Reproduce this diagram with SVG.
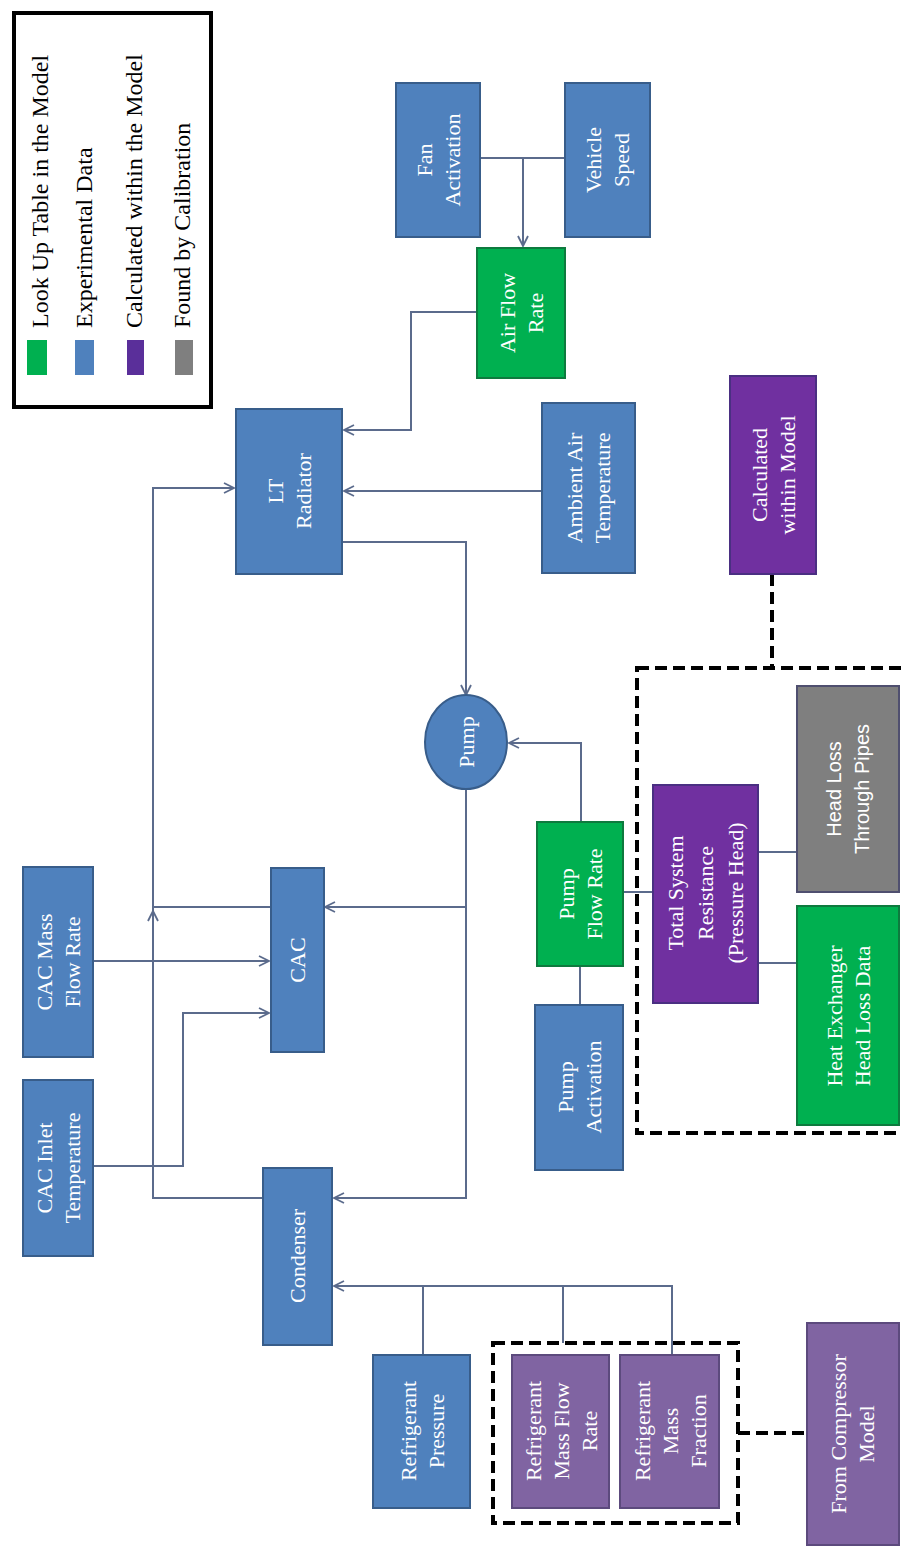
<svg xmlns="http://www.w3.org/2000/svg" width="901" height="1549" viewBox="0 0 901 1549">
<style>
.n{stroke-width:2}
.blue{fill:#4f81bd;stroke:#385d8a}
.green{fill:#00b050;stroke:#0e7a3e}
.dpur{fill:#7030a0;stroke:#4a2f82}
.lpur{fill:#8064a2;stroke:#5c4a7d}
.gray{fill:#7f7f7f;stroke:#4f4f6f}
.t{font-family:"Liberation Serif","Times New Roman",serif;font-size:22px;fill:#fff;text-anchor:middle}
.ts{font-family:"Liberation Sans",Arial,sans-serif;font-size:20px;fill:#fff;text-anchor:middle}
.lg{font-family:"Liberation Serif","Times New Roman",serif;font-size:24px;fill:#000}
.c{fill:none;stroke:#5b6b8c;stroke-width:2}
.d{fill:none;stroke:#000;stroke-width:4;stroke-dasharray:12 6}
</style>
<defs>
<marker id="ar" viewBox="0 0 12 12" refX="11" refY="6" markerWidth="12" markerHeight="12" markerUnits="userSpaceOnUse" orient="auto">
<path d="M1,1 L11,6 L1,11" fill="none" stroke="#5b6b8c" stroke-width="1.8"/>
</marker>
</defs>
<rect width="901" height="1549" fill="#fff"/>

<g id="legend">
<rect x="14" y="13" width="197" height="394" fill="#fff" stroke="#000" stroke-width="4"/>
<rect x="27" y="340" width="20" height="35" fill="#00b050"/>
<rect x="75" y="340" width="19" height="35" fill="#4f81bd"/>
<rect x="127" y="340" width="17" height="35" fill="#5a2f9a"/>
<rect x="175" y="340" width="18" height="35" fill="#7f7f7f"/>
<text class="lg" transform="translate(48,328) rotate(-90)">Look Up Table in the Model</text>
<text class="lg" transform="translate(92,328) rotate(-90)">Experimental Data</text>
<text class="lg" transform="translate(142,328) rotate(-90)">Calculated within the Model</text>
<text class="lg" transform="translate(190,328) rotate(-90)">Found by Calibration</text>
</g>

<g id="connectors">
<path class="c" d="M480,158 H565"/>
<path class="c" d="M523,158 V246" marker-end="url(#ar)"/>
<path class="c" d="M477,312 H411 V430 H344" marker-end="url(#ar)"/>
<path class="c" d="M542,491 H344" marker-end="url(#ar)"/>
<path class="c" d="M342,542 H466 V695" marker-end="url(#ar)"/>
<path class="c" d="M263,1198 H153 V488 H234" marker-end="url(#ar)"/>
<path class="c" d="M271,907 H153"/>
<path class="c" d="M153,935 V911" marker-end="url(#ar)"/>
<path class="c" d="M466,789 V1198 H334" marker-end="url(#ar)"/>
<path class="c" d="M466,907 H325" marker-end="url(#ar)"/>
<path class="c" d="M581,822 V743 H509" marker-end="url(#ar)"/>
<path class="c" d="M580,1005 V966"/>
<path class="c" d="M623,892 H653"/>
<path class="c" d="M758,852 H797"/>
<path class="c" d="M758,963 H797"/>
<path class="c" d="M93,961 H269" marker-end="url(#ar)"/>
<path class="c" d="M93,1166 H183 V1013 H269" marker-end="url(#ar)"/>
<path class="c" d="M672,1355 V1286 H334" marker-end="url(#ar)"/>
<path class="c" d="M423,1355 V1286"/>
<path class="c" d="M563,1343 V1286"/>
<path class="d" d="M772,574 V668"/>
<path class="d" d="M738,1433 H807"/>
</g>

<g id="group-resistance">
<rect class="d" x="637" y="668" width="275" height="465"/>
</g>
<g id="group-refrigerant">
<rect class="d" x="493" y="1343" width="245" height="180"/>
</g>

<g id="fan-activation"><rect class="n blue" x="396" y="83" width="84" height="154"/>
<text class="t" transform="translate(432,160) rotate(-90)">Fan</text>
<text class="t" transform="translate(460,160) rotate(-90)">Activation</text></g>

<g id="vehicle-speed"><rect class="n blue" x="565" y="83" width="85" height="154"/>
<text class="t" transform="translate(601,160) rotate(-90)">Vehicle</text>
<text class="t" transform="translate(629,160) rotate(-90)">Speed</text></g>

<g id="air-flow-rate"><rect class="n green" x="477" y="248" width="88" height="130"/>
<text class="t" transform="translate(515,313) rotate(-90)">Air Flow</text>
<text class="t" transform="translate(543,313) rotate(-90)">Rate</text></g>

<g id="lt-radiator"><rect class="n blue" x="236" y="409" width="106" height="165"/>
<text class="t" transform="translate(283,491) rotate(-90)">LT</text>
<text class="t" transform="translate(311,491) rotate(-90)">Radiator</text></g>

<g id="ambient-air-temperature"><rect class="n blue" x="542" y="403" width="93" height="170"/>
<text class="t" transform="translate(582,488) rotate(-90)">Ambient Air</text>
<text class="t" transform="translate(610,488) rotate(-90)">Temperature</text></g>

<g id="calculated-within-model"><rect class="n dpur" x="730" y="376" width="86" height="198"/>
<text class="t" transform="translate(767,475) rotate(-90)">Calculated</text>
<text class="t" transform="translate(795,475) rotate(-90)">within Model</text></g>

<g id="pump"><ellipse class="n blue" cx="466" cy="742" rx="41" ry="47"/>
<text class="t" transform="translate(474,742) rotate(-90)">Pump</text></g>

<g id="cac-mass-flow-rate"><rect class="n blue" x="23" y="867" width="70" height="190"/>
<text class="t" transform="translate(52,962) rotate(-90)">CAC Mass</text>
<text class="t" transform="translate(80,962) rotate(-90)">Flow Rate</text></g>

<g id="cac-inlet-temperature"><rect class="n blue" x="23" y="1080" width="70" height="176"/>
<text class="t" transform="translate(52,1168) rotate(-90)">CAC Inlet</text>
<text class="t" transform="translate(80,1168) rotate(-90)">Temperature</text></g>

<g id="cac"><rect class="n blue" x="271" y="868" width="53" height="184"/>
<text class="t" transform="translate(305,960) rotate(-90)">CAC</text></g>

<g id="condenser"><rect class="n blue" x="263" y="1168" width="69" height="177"/>
<text class="t" transform="translate(305,1256) rotate(-90)">Condenser</text></g>

<g id="pump-flow-rate"><rect class="n green" x="537" y="822" width="86" height="144"/>
<text class="t" transform="translate(574,894) rotate(-90)">Pump</text>
<text class="t" transform="translate(602,894) rotate(-90)">Flow Rate</text></g>

<g id="pump-activation"><rect class="n blue" x="535" y="1005" width="88" height="165"/>
<text class="t" transform="translate(573,1087) rotate(-90)">Pump</text>
<text class="t" transform="translate(601,1087) rotate(-90)">Activation</text></g>

<g id="total-system-resistance"><rect class="n dpur" x="653" y="785" width="105" height="218"/>
<text class="t" transform="translate(683,893) rotate(-90)">Total System</text>
<text class="t" transform="translate(713,893) rotate(-90)">Resistance</text>
<text class="t" transform="translate(743,893) rotate(-90)">(Pressure Head)</text></g>

<g id="head-loss-pipes"><rect class="n gray" x="797" y="686" width="102" height="206"/>
<text class="ts" transform="translate(841,789) rotate(-90)">Head Loss</text>
<text class="ts" transform="translate(869,789) rotate(-90)">Through Pipes</text></g>

<g id="heat-exchanger-head-loss"><rect class="n green" x="797" y="906" width="102" height="219"/>
<text class="t" transform="translate(842,1016) rotate(-90)">Heat Exchanger</text>
<text class="t" transform="translate(870,1016) rotate(-90)">Head Loss Data</text></g>

<g id="refrigerant-pressure"><rect class="n blue" x="373" y="1355" width="97" height="153"/>
<text class="t" transform="translate(416,1431) rotate(-90)">Refrigerant</text>
<text class="t" transform="translate(444,1431) rotate(-90)">Pressure</text></g>

<g id="refrigerant-mass-flow-rate"><rect class="n lpur" x="512" y="1355" width="97" height="153"/>
<text class="t" transform="translate(541,1431) rotate(-90)">Refrigerant</text>
<text class="t" transform="translate(569,1431) rotate(-90)">Mass Flow</text>
<text class="t" transform="translate(597,1431) rotate(-90)">Rate</text></g>

<g id="refrigerant-mass-fraction"><rect class="n lpur" x="620" y="1355" width="99" height="153"/>
<text class="t" transform="translate(650,1431) rotate(-90)">Refrigerant</text>
<text class="t" transform="translate(678,1431) rotate(-90)">Mass</text>
<text class="t" transform="translate(706,1431) rotate(-90)">Fraction</text></g>

<g id="from-compressor-model"><rect class="n lpur" x="807" y="1323" width="92" height="222"/>
<text class="t" transform="translate(846,1434) rotate(-90)">From Compressor</text>
<text class="t" transform="translate(874,1434) rotate(-90)">Model</text></g>
</svg>
